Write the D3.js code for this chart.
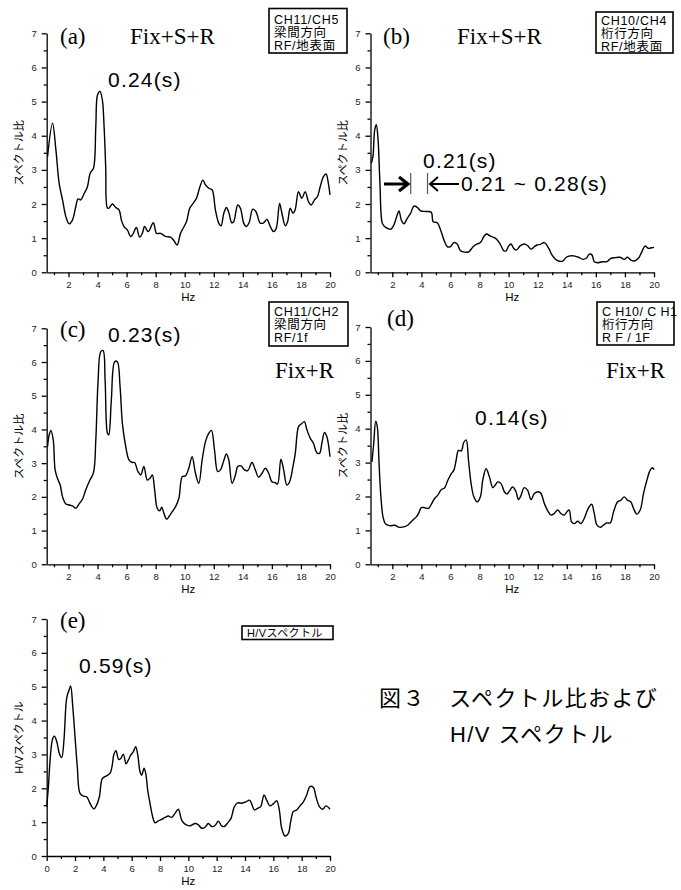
<!DOCTYPE html>
<html lang="ja">
<head>
<meta charset="utf-8">
<title>スペクトル比および H/V スペクトル</title>
<script src="https://cdn.jsdelivr.net/npm/d3@7"></script>
<style>
  body { margin: 0; background: #fff; }
  svg { display: block; }
  .tick text { font-family: "Liberation Sans", Arial, sans-serif; font-size: 9.5px; fill: #222; }
  .domain, .tick line { stroke: #000; stroke-width: 1.3; }
</style>
</head>
<body>
<script>
// ---- data ----
var aHz  = [0.56,0.9,1.13,1.36,1.6,1.82,2.05,2.27,2.5,2.66,2.85,3.07,3.3,3.49,3.72,3.88,4.0,4.17,4.33,4.45,4.56,4.68,4.79,5.02,5.25,5.48,5.64,5.82,6.05,6.28,6.46,6.67,6.9,7.08,7.24,7.49,7.84,8.06,8.34,8.68,9.03,9.25,9.48,9.71,9.89,10.12,10.35,10.58,10.81,11.04,11.25,11.43,11.66,11.89,12.11,12.34,12.5,12.69,12.87,13.05,13.24,13.37,13.65,13.83,14.06,14.24,14.43,14.68,14.9,15.2,15.43,15.66,15.89,16.12,16.3,16.53,16.69,16.92,17.08,17.26,17.45,17.6,17.83,18.06,18.29,18.52,18.7,18.93,19.14,19.32,19.55,19.73,19.89,20.0];
var aVal = [3.39,4.37,3.6,2.6,2.1,1.63,1.42,1.53,1.92,2.15,2.12,2.3,2.5,2.9,3.05,4.27,5.2,5.3,5.05,4.27,3.1,1.88,1.88,2.0,1.9,1.83,1.53,1.34,1.24,1.05,1.14,1.31,1.03,1.14,1.34,1.19,1.45,1.14,1.14,1.05,1.03,0.93,0.8,1.14,1.29,1.48,1.88,2.02,2.17,2.5,2.7,2.56,2.46,2.41,1.83,1.44,1.36,1.73,1.9,1.73,1.45,1.48,1.97,1.88,1.44,1.34,1.45,1.85,1.78,1.44,1.45,1.55,1.34,1.19,1.29,2.02,1.73,1.36,1.48,1.88,1.73,1.83,2.36,2.17,2.36,2.07,1.97,2.12,2.22,2.5,2.8,2.88,2.6,2.27];

var bHz  = [0.56,0.67,0.79,0.9,1.02,1.15,1.31,1.47,1.66,1.89,2.11,2.3,2.46,2.62,2.8,3.03,3.26,3.49,3.72,3.95,4.29,4.68,4.81,5.09,5.32,5.55,5.78,6.0,6.23,6.46,6.69,6.97,7.26,7.56,7.84,8.06,8.3,8.48,8.75,9.09,9.39,9.67,9.83,10.0,10.17,10.35,10.53,10.81,11.08,11.31,11.54,11.77,11.95,12.18,12.46,12.76,12.98,13.21,13.44,13.72,13.97,14.24,14.47,14.81,15.11,15.34,15.55,15.73,15.89,16.12,16.42,16.76,17.03,17.33,17.68,17.95,18.18,18.41,18.64,18.93,19.16,19.39,19.62,19.85,20.0];
var bVal = [3.2,3.4,4.17,4.32,3.88,2.6,1.44,1.34,1.29,1.26,1.39,1.63,1.8,1.53,1.42,1.58,1.73,1.94,1.9,1.8,1.78,1.76,1.48,1.45,1.24,0.95,0.75,0.75,0.87,0.83,0.63,0.59,0.6,0.75,0.83,0.87,1.05,1.12,1.06,1.0,0.85,0.63,0.63,0.77,0.83,0.7,0.65,0.78,0.83,0.78,0.68,0.75,0.8,0.82,0.87,0.7,0.51,0.39,0.33,0.33,0.44,0.48,0.48,0.44,0.38,0.41,0.53,0.51,0.31,0.28,0.31,0.31,0.41,0.43,0.44,0.38,0.44,0.36,0.33,0.41,0.6,0.77,0.7,0.72,0.73];

var cHz  = [0.56,0.67,0.79,0.95,1.08,1.24,1.43,1.59,1.82,2.05,2.27,2.5,2.73,2.96,3.19,3.42,3.72,3.88,4.04,4.22,4.38,4.52,4.68,4.77,4.95,5.18,5.36,5.55,5.71,5.94,6.16,6.39,6.55,6.78,6.97,7.19,7.42,7.61,7.77,7.93,8.11,8.29,8.41,8.57,8.75,8.91,9.14,9.37,9.6,9.83,10.05,10.28,10.51,10.74,10.97,11.2,11.43,11.66,11.84,12.05,12.27,12.46,12.69,12.87,13.03,13.26,13.49,13.65,13.88,14.11,14.34,14.63,14.86,15.09,15.32,15.55,15.78,16.0,16.23,16.39,16.62,16.81,17.03,17.22,17.45,17.61,17.84,18.02,18.23,18.41,18.64,18.86,19.09,19.28,19.44,19.62,19.78,20.0];
var cVal = [3.49,3.84,3.97,3.69,2.8,2.55,2.35,2.0,1.79,1.76,1.73,1.66,1.79,1.93,2.21,2.45,2.72,3.69,5.47,6.31,6.34,5.47,3.89,3.84,4.88,6.01,6.01,5.27,4.18,3.49,3.1,3.02,3.02,2.75,2.65,2.9,2.5,2.55,2.65,2.21,1.66,1.59,1.69,1.51,1.34,1.41,1.56,1.71,1.96,2.6,2.62,2.85,3.19,2.7,2.4,3.1,3.64,3.89,3.97,3.39,2.75,2.8,3.08,3.27,3.1,2.4,2.65,2.9,2.92,2.8,2.78,3.02,2.8,2.58,2.7,2.85,2.7,2.45,2.42,2.38,3.12,2.8,2.35,2.45,2.9,3.29,4.09,4.16,4.23,3.99,3.74,3.59,3.31,3.29,3.59,3.91,3.79,3.19];

var dHz  = [0.6,0.72,0.86,0.97,1.08,1.2,1.36,1.52,1.82,2.16,2.5,2.85,3.08,3.35,3.65,3.81,3.99,4.22,4.49,4.68,4.91,5.13,5.36,5.59,5.82,6.05,6.23,6.39,6.55,6.74,6.92,7.08,7.24,7.42,7.61,7.84,8.06,8.22,8.45,8.68,8.91,9.07,9.25,9.48,9.71,9.89,10.05,10.28,10.51,10.67,10.81,11.08,11.31,11.54,11.77,12.05,12.23,12.46,12.69,12.92,13.14,13.37,13.6,13.83,14.01,14.17,14.33,14.52,14.75,14.98,15.2,15.48,15.71,15.89,16.07,16.3,16.53,16.76,16.99,17.22,17.49,17.72,17.95,18.18,18.41,18.59,18.82,19.05,19.28,19.51,19.73,19.89,20.0];
var dVal = [3.02,3.56,4.22,4.05,3.07,2.09,1.4,1.2,1.14,1.15,1.09,1.11,1.16,1.28,1.4,1.5,1.67,1.67,1.65,1.77,1.94,2.04,2.2,2.25,2.48,2.67,2.77,3.07,3.36,3.34,3.6,3.67,3.07,2.38,1.99,1.84,1.99,2.48,2.82,2.58,2.26,2.33,2.43,2.38,2.14,2.07,2.16,2.28,2.14,1.91,1.99,2.26,2.18,1.91,2.09,2.14,2.09,1.79,1.58,1.45,1.5,1.6,1.5,1.45,1.55,1.6,1.25,1.2,1.27,1.2,1.35,1.65,1.77,1.5,1.16,1.09,1.16,1.22,1.22,1.55,1.84,1.89,1.99,1.89,1.84,1.65,1.48,1.6,2.09,2.48,2.77,2.85,2.79];

var eHz  = [0,0.12,0.24,0.4,0.54,0.71,0.89,1.06,1.22,1.41,1.58,1.69,1.84,2.0,2.16,2.35,2.59,2.82,3.01,3.18,3.34,3.53,3.72,3.93,4.19,4.47,4.61,4.75,4.89,5.08,5.22,5.41,5.6,5.76,5.93,6.12,6.28,6.42,6.59,6.71,6.87,6.99,7.13,7.29,7.48,7.65,7.88,8.12,8.35,8.59,8.82,9.06,9.29,9.53,9.76,10.12,10.47,10.71,10.94,11.18,11.41,11.65,11.88,12.12,12.35,12.54,12.78,13.01,13.25,13.48,13.76,14.07,14.31,14.47,14.66,14.89,15.11,15.34,15.53,15.76,16.0,16.24,16.42,16.59,16.82,17.06,17.22,17.41,17.65,17.88,18.12,18.35,18.59,18.82,19.01,19.25,19.48,19.72,20.0];
var eVal = [1.46,2.05,2.83,3.43,3.54,3.38,3.03,2.91,3.43,4.66,4.9,5.02,4.41,3.52,2.64,1.85,1.77,1.75,1.6,1.46,1.39,1.51,1.75,2.29,2.36,2.44,2.64,3.01,3.11,2.85,2.88,3.01,2.72,2.83,2.98,3.08,3.23,3.01,2.49,2.39,2.59,2.44,1.95,1.56,1.16,0.98,1.04,1.08,1.14,1.18,1.14,1.26,1.38,1.06,0.94,0.89,0.96,0.92,0.82,0.85,0.96,0.87,0.9,1.03,0.89,0.87,0.98,1.11,1.46,1.57,1.56,1.6,1.65,1.54,1.36,1.41,1.46,1.8,1.65,1.48,1.54,1.63,1.36,0.82,0.59,0.67,1.01,1.31,1.36,1.48,1.6,1.8,2.05,2.03,1.75,1.46,1.38,1.48,1.38];

var yTicks = [0, 1, 2, 3, 4, 5, 6, 7];
var xTicksMajor = [2, 4, 6, 8, 10, 12, 14, 16, 18, 20];
var xTicksMajorE = [0, 2, 4, 6, 8, 10, 12, 14, 16, 18, 20];

var svg = d3.select("body").append("svg")
  .attr("width", 681)
  .attr("height", 890);

var sans = "'Liberation Sans', Arial, sans-serif";
var serif = "'Liberation Serif', 'Times New Roman', serif";
var cjk = "'Liberation Sans', 'Noto Sans CJK JP', sans-serif";

function panel(p) {
  var x = d3.scaleLinear().domain(p.xDomain).range([p.left, p.right]);
  var y = d3.scaleLinear().domain([0, 7]).range([p.bottom, p.top]);
  var g = svg.append("g");

  var minorX = d3.range(Math.ceil(p.xDomain[0]), 20, 1).filter(function(v) { return v % 2 === 1; });
  var minorY = d3.range(0.5, 7, 1);

  // minor ticks first, then major axes on top
  g.append("g").attr("transform", "translate(0," + p.bottom + ")")
    .call(d3.axisBottom(x).tickValues(minorX).tickSize(3).tickFormat(""))
    .select(".domain").remove();
  g.append("g").attr("transform", "translate(" + p.left + ",0)")
    .call(d3.axisLeft(y).tickValues(minorY).tickSize(3).tickFormat(""))
    .select(".domain").remove();

  g.append("g").attr("transform", "translate(0," + p.bottom + ")")
    .call(d3.axisBottom(x).tickValues(p.xMajor).tickSize(5).tickSizeOuter(0).tickPadding(4).tickFormat(d3.format("d")));
  g.append("g").attr("transform", "translate(" + p.left + ",0)")
    .call(d3.axisLeft(y).tickValues(yTicks).tickSize(5).tickSizeOuter(0).tickPadding(5).tickFormat(d3.format("d")));

  var line = d3.line()
    .x(function(d, i) { return x(p.hz[i]); })
    .y(function(d) { return y(d); })
    .curve(d3.curveCatmullRom.alpha(0.5));

  g.append("path").datum(p.val)
    .attr("d", line)
    .attr("fill", "none")
    .attr("stroke", "#000")
    .attr("stroke-width", 1.4)
    .attr("stroke-linejoin", "round");

  // axis titles
  g.append("text")
    .attr("x", (p.left + p.right) / 2)
    .attr("y", p.bottom + 29)
    .attr("text-anchor", "middle")
    .style("font-family", sans).style("font-size", "11.5px")
    .text("Hz");
  g.append("text")
    .attr("transform", "translate(" + (p.left - 24) + "," + ((p.top + p.bottom) / 2) + ") rotate(-90)")
    .attr("text-anchor", "middle")
    .style("font-family", cjk).style("font-size", "11px")
    .text(p.yLabel);
  return g;
}

function box(x0, y0, w, h, lines, opts) {
  opts = opts || {};
  svg.append("rect")
    .attr("x", x0).attr("y", y0).attr("width", w).attr("height", h)
    .attr("fill", "#fff").attr("stroke", "#000").attr("stroke-width", 1.6);
  lines.forEach(function(t, i) {
    svg.append("text")
      .attr("x", x0 + (opts.padX || 9))
      .attr("y", y0 + (opts.firstY || 15) + i * 13.2)
      .style("font-family", cjk)
      .style("font-size", (opts.size || 12.5) + "px")
      .style("letter-spacing", (opts.spacing != null ? opts.spacing : 0.6) + "px")
      .text(t);
  });
}

function label(x0, y0, t, font, size, spacing, anchor) {
  svg.append("text")
    .attr("x", x0).attr("y", y0)
    .attr("text-anchor", anchor || "start")
    .style("font-family", font)
    .style("font-size", size + "px")
    .style("letter-spacing", (spacing || 0) + "px")
    .text(t);
}

var yl1 = "スペクトル比";

panel({ hz: aHz, val: aVal, xDomain: [0.5, 20], xMajor: xTicksMajor, left: 46.7, right: 330, top: 33.3, bottom: 272.3, yLabel: yl1 });
panel({ hz: bHz, val: bVal, xDomain: [0.5, 20], xMajor: xTicksMajor, left: 370.5, right: 654, top: 33.3, bottom: 272.3, yLabel: yl1 });
panel({ hz: cHz, val: cVal, xDomain: [0.5, 20], xMajor: xTicksMajor, left: 46.7, right: 330, top: 328.3, bottom: 564.3, yLabel: yl1 });
panel({ hz: dHz, val: dVal, xDomain: [0.5, 20], xMajor: xTicksMajor, left: 370.5, right: 654, top: 327, bottom: 564.3, yLabel: yl1 });
panel({ hz: eHz, val: eVal, xDomain: [0, 20], xMajor: xTicksMajorE, left: 46.7, right: 330, top: 619, bottom: 856, yLabel: "H/Vスペクトル" });

// panel letters and case names
label(60, 44, "(a)", serif, 23);
label(130, 44, "Fix+S+R", serif, 23);
label(383, 44, "(b)", serif, 23);
label(457, 44, "Fix+S+R", serif, 23);
label(60, 337, "(c)", serif, 23);
label(334, 378, "Fix+R", serif, 23, 0, "end");
label(387, 326, "(d)", serif, 23);
label(665, 378, "Fix+R", serif, 23, 0, "end");
label(60, 628, "(e)", serif, 23);

// period annotations
label(108, 87, "0.24(s)", sans, 21, 1.2);
label(108, 342, "0.23(s)", sans, 21, 1.2);
label(475, 425, "0.14(s)", sans, 21, 1.2);
label(79, 673, "0.59(s)", sans, 21, 1.2);
label(423, 168, "0.21(s)", sans, 21, 1.2);
label(461, 191, "0.21 ~ 0.28(s)", sans, 21, 1.2);

// arrows in (b)
svg.append("line").attr("x1", 410.7).attr("x2", 410.7).attr("y1", 173).attr("y2", 194)
  .attr("stroke", "#555").attr("stroke-width", 1.2);
svg.append("line").attr("x1", 427.5).attr("x2", 427.5).attr("y1", 173).attr("y2", 194)
  .attr("stroke", "#555").attr("stroke-width", 1.2);
svg.append("path").attr("d", "M384,184 L408,184 M399,177 L408,184 L399,191")
  .attr("fill", "none").attr("stroke", "#000").attr("stroke-width", 3.2).attr("stroke-linejoin", "miter");
svg.append("path").attr("d", "M459,184 L430,184 M438,177 L430,184 L438,191")
  .attr("fill", "none").attr("stroke", "#000").attr("stroke-width", 2);

// channel boxes
box(269, 8.5, 78, 44.5, ["CH11/CH5", "梁間方向", "RF/地表面"], { padX: 5, firstY: 15.5, spacing: 0.7 });
box(596, 12, 77, 41, ["CH10/CH4", "桁行方向", "RF/地表面"], { padX: 5, firstY: 13, spacing: 0.7 });
box(269, 302, 79, 44, ["CH11/CH2", "梁間方向", "RF/1f"], { padX: 5, firstY: 14, spacing: 0.7 });
box(597, 302, 77, 43, ["C H10/ C H1", "桁行方向", "R F / 1F"], { padX: 5, firstY: 14, spacing: 0.4 });
box(242, 626, 91, 13.5, ["H/Vスペクトル"], { padX: 5, firstY: 11, size: 11, spacing: 0.4 });

// figure caption
label(379, 706, "図３　スペクトル比および", cjk, 22, 1.4);
label(450, 742, "H/V スペクトル", cjk, 22, 1.4);
</script>
</body>
</html>
